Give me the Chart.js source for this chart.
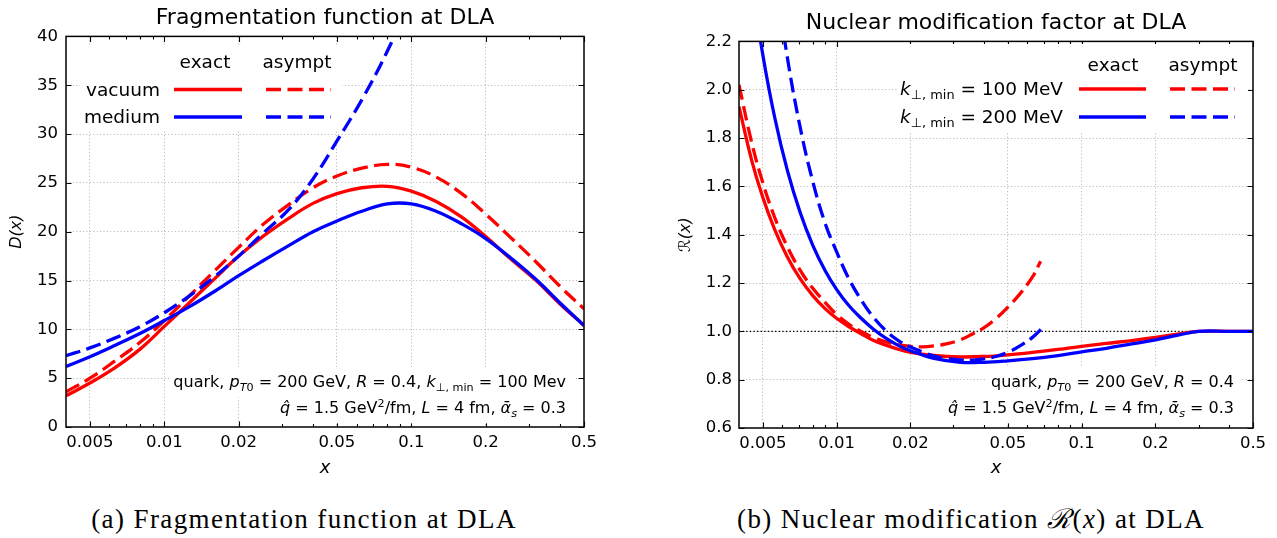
<!DOCTYPE html>
<html>
<head>
<meta charset="utf-8">
<script src="https://cdn.jsdelivr.net/npm/chart.js@4.4.1/dist/chart.umd.min.js"></script>
<style>
  html, body { margin: 0; padding: 0; background: #fff; }
  body { width: 1277px; height: 538px; position: relative; overflow: hidden; }
  canvas { position: absolute; top: 0; }
  #fragChart { left: 0; }
  #rmodChart { left: 640px; }
  .caption { position: absolute; top: 503px; font-family: 'Liberation Serif', serif; font-size: 27px;
             line-height: 32px; white-space: nowrap; transform: translateX(-50%); letter-spacing: 1.4px; }
</style>
</head>
<body>
<canvas id="fragChart" width="638" height="480"></canvas>
<canvas id="rmodChart" width="637" height="480"></canvas>
<div class="caption" style="left:304px">(a) Fragmentation function at DLA</div>
<div class="caption" style="left:971px">(b) Nuclear modification <i>ℛ</i>(<i>x</i>) at DLA</div>
<script>
'use strict';

// ---- axes ----
const xMajorTicks = [0.005, 0.01, 0.02, 0.05, 0.1, 0.2, 0.5];
const xTickLabels = ['0.005', '0.01', '0.02', '0.05', '0.1', '0.2', '0.5'];
const xMinorTicks = [0.006, 0.007, 0.008, 0.009, 0.03, 0.04, 0.06, 0.07, 0.08, 0.09, 0.3, 0.4];
const fragYTicks = [0, 5, 10, 15, 20, 25, 30, 35, 40];
const rmodYTicks = [0.6, 0.8, 1.0, 1.2, 1.4, 1.6, 1.8, 2.0, 2.2];

// ---- (a) fragmentation function D(x) ----
const fragX        = [0.004, 0.005, 0.0063, 0.008, 0.01, 0.0126, 0.016, 0.02, 0.025, 0.032, 0.04, 0.05, 0.063, 0.08, 0.1, 0.126, 0.16, 0.2, 0.25, 0.32, 0.4, 0.5];
const vacuumExact  = [3.2, 4.5, 6.05, 8.0, 10.3, 12.7, 15.2, 17.5, 19.5, 21.4, 22.9, 23.9, 24.5, 24.65, 24.15, 23.1, 21.5, 19.5, 17.3, 15.0, 12.6, 10.4];
const vacuumAsympt = [3.6, 5.0, 6.75, 8.7, 10.9, 13.4, 16.0, 18.4, 20.7, 22.8, 24.5, 25.7, 26.5, 26.9, 26.6, 25.6, 23.9, 21.8, 19.5, 16.9, 14.4, 12.1];
const mediumExact  = [6.2, 7.2, 8.35, 9.6, 10.9, 12.3, 13.9, 15.5, 17.0, 18.6, 20.0, 21.1, 22.1, 22.85, 22.85, 22.1, 20.8, 19.3, 17.4, 15.1, 12.7, 10.4];
const mediumAsymptX = [0.004, 0.005, 0.0063, 0.008, 0.01, 0.0126, 0.016, 0.02, 0.025, 0.032, 0.04, 0.05, 0.063, 0.08, 0.1];
const mediumAsympt  = [7.3, 8.1, 9.1, 10.3, 11.7, 13.4, 15.4, 17.5, 19.8, 22.3, 25.4, 29.3, 33.5, 38.5, 44.0];

// ---- (b) nuclear modification factor R(x) ----
const r100X     = [0.004, 0.0045, 0.005, 0.0056, 0.0063, 0.0071, 0.008, 0.009, 0.01, 0.0112, 0.0126, 0.0141, 0.016, 0.018, 0.02, 0.025, 0.032, 0.04, 0.05, 0.063, 0.08, 0.1, 0.126, 0.16, 0.2, 0.25, 0.3, 0.4, 0.5];
const r100Exact = [1.93, 1.71, 1.555, 1.42, 1.308, 1.218, 1.148, 1.093, 1.054, 1.02, 0.99, 0.963, 0.942, 0.925, 0.913, 0.9, 0.894, 0.896, 0.903, 0.913, 0.925, 0.938, 0.95, 0.962, 0.975, 0.99, 1.0, 1.0, 1.0];
const r200X     = [0.0045, 0.005, 0.0056, 0.0063, 0.0071, 0.008, 0.009, 0.01, 0.0112, 0.0126, 0.0141, 0.016, 0.018, 0.02, 0.025, 0.032, 0.04, 0.05, 0.063, 0.08, 0.1, 0.126, 0.16, 0.2, 0.25, 0.3, 0.4, 0.5];
const r200Exact = [2.45, 2.146, 1.883, 1.666, 1.493, 1.356, 1.25, 1.174, 1.108, 1.054, 1.01, 0.97, 0.94, 0.92, 0.888, 0.872, 0.872, 0.878, 0.887, 0.9, 0.915, 0.93, 0.948, 0.965, 0.985, 1.0, 1.0, 1.0];
const r100AsymX = [0.004, 0.0045, 0.005, 0.0056, 0.0063, 0.0071, 0.008, 0.009, 0.01, 0.0112, 0.0126, 0.0141, 0.016, 0.018, 0.02, 0.0224, 0.025, 0.028, 0.032, 0.036, 0.04, 0.045, 0.05, 0.056, 0.063, 0.068];
const r100Asym  = [2.02, 1.784, 1.616, 1.47, 1.35, 1.253, 1.178, 1.119, 1.07, 1.03, 1.0, 0.975, 0.956, 0.944, 0.938, 0.936, 0.94, 0.948, 0.965, 0.99, 1.015, 1.055, 1.10, 1.155, 1.225, 1.29];
const r200AsymX = [0.0056, 0.0063, 0.0071, 0.008, 0.009, 0.01, 0.0112, 0.0126, 0.0141, 0.016, 0.018, 0.02, 0.0224, 0.025, 0.028, 0.032, 0.036, 0.04, 0.045, 0.05, 0.056, 0.063, 0.07];
const r200Asym  = [2.49, 2.133, 1.846, 1.62, 1.445, 1.33, 1.22, 1.13, 1.06, 1.0, 0.96, 0.935, 0.915, 0.898, 0.888, 0.882, 0.881, 0.886, 0.897, 0.913, 0.94, 0.975, 1.02];
const refLineX  = [0.004, 0.5];
const refLineY  = [1, 1];

// ---- texts ----
const fragNotes = [
  [['quark, ', ''], ['p', 'i'], ['T', 'ib'], ['0', 'b'], [' = 200 GeV, ', ''], ['R', 'i'], [' = 0.4, ', ''], ['k', 'i'], ['\u22A5, min', 'b'], [' = 100 Mev', '']],
  [['q\u0302', 'i'], [' = 1.5 GeV', ''], ['2', 'p'], ['/fm, ', ''], ['L', 'i'], [' = 4 fm, ', ''], ['\u1FB1', 'i'], ['s', 'ib'], [' = 0.3', '']]
];
const rmodNotes = [
  [['quark, ', ''], ['p', 'i'], ['T', 'ib'], ['0', 'b'], [' = 200 GeV, ', ''], ['R', 'i'], [' = 0.4', '']],
  fragNotes[1]
];

const SANS = "'DejaVu Sans', sans-serif";
const RED = '#ff0000';
const BLUE = '#0000ff';
const GRID = '#bdbdbd';
const DASH = [15, 6.5];

Chart.defaults.font.family = SANS;

function toPts(xs, ys) {
  return xs.map((x, i) => ({ x: x, y: ys[i] }));
}

function runFont(st, size) {
  const s = (st.includes('b') || st.includes('p')) ? size * 0.7 : size;
  return (st.includes('i') ? 'italic ' : '') + s.toFixed(1) + 'px ' + SANS;
}
function runShift(st, size) {
  if (st.includes('b')) return size * 0.22;
  if (st.includes('p')) return -size * 0.4;
  return 0;
}
function richWidth(ctx, runs, size) {
  let w = 0;
  runs.forEach(r => { ctx.font = runFont(r[1], size); w += ctx.measureText(r[0]).width; });
  return w;
}
function drawRich(ctx, runs, x, y, size, align) {
  const w = richWidth(ctx, runs, size);
  let cx = align === 'right' ? x - w : (align === 'center' ? x - w / 2 : x);
  ctx.textAlign = 'left';
  ctx.textBaseline = 'alphabetic';
  runs.forEach(r => {
    ctx.font = runFont(r[1], size);
    ctx.fillText(r[0], cx, y + runShift(r[1], size));
    cx += ctx.measureText(r[0]).width;
  });
}

// frame, inward ticks, legend and notes
function decorPlugin(cfg) {
  return {
    id: 'decor',
    afterDatasetsDraw(chart) {
      const ctx = chart.ctx;
      const a = chart.chartArea;
      const xs = chart.scales.x, ys = chart.scales.y;
      ctx.save();
      ctx.strokeStyle = '#000';
      ctx.lineWidth = 1.1;
      ctx.beginPath();
      xMajorTicks.concat(xMinorTicks).forEach(v => {
        const len = xMajorTicks.includes(v) ? 5.5 : 3;
        const px = Math.round(xs.getPixelForValue(v)) + 0.5;
        ctx.moveTo(px, a.bottom); ctx.lineTo(px, a.bottom - len);
        ctx.moveTo(px, a.top); ctx.lineTo(px, a.top + len);
      });
      cfg.yTicks.forEach(v => {
        const py = Math.round(ys.getPixelForValue(v)) + 0.5;
        ctx.moveTo(a.left, py); ctx.lineTo(a.left + 5.5, py);
        ctx.moveTo(a.right, py); ctx.lineTo(a.right - 5.5, py);
      });
      ctx.stroke();
      ctx.lineWidth = 1.5;
      ctx.strokeRect(a.left, a.top, a.right - a.left, a.bottom - a.top);

      // legend
      const lg = cfg.legend;
      ctx.fillStyle = '#fff';
      ctx.fillRect(lg.box[0], lg.box[1], lg.box[2], lg.box[3]);
      ctx.fillStyle = '#000';
      ctx.font = lg.size + 'px ' + SANS;
      ctx.textAlign = 'center';
      ctx.textBaseline = 'alphabetic';
      ctx.fillText('exact', lg.exactX, lg.headY);
      ctx.fillText('asympt', lg.asymX, lg.headY);
      lg.rows.forEach(row => {
        ctx.fillStyle = '#000';
        drawRich(ctx, row.runs, lg.labelRight, row.y + 6, lg.size, 'right');
        ctx.strokeStyle = row.color;
        ctx.lineWidth = 3.3;
        ctx.setLineDash([]);
        ctx.beginPath(); ctx.moveTo(lg.solid[0], row.y); ctx.lineTo(lg.solid[1], row.y); ctx.stroke();
        ctx.setLineDash(DASH);
        ctx.beginPath(); ctx.moveTo(lg.dashed[0], row.y); ctx.lineTo(lg.dashed[1], row.y); ctx.stroke();
        ctx.setLineDash([]);
      });

      // parameter notes, each line on a white box
      const nt = cfg.notes;
      nt.lines.forEach((runs, i) => {
        const w = richWidth(ctx, runs, nt.size);
        const base = nt.baselines[i];
        ctx.fillStyle = '#fff';
        ctx.fillRect(nt.right - w - 4, base - nt.size * 1.25, w + 12, nt.size * 1.9);
      });
      ctx.fillStyle = '#000';
      nt.lines.forEach((runs, i) => drawRich(ctx, runs, nt.right, nt.baselines[i], nt.size, 'right'));
      ctx.restore();
    }
  };
}

function edgeGrid(edges) {
  return ctx => (ctx.tick && edges.includes(ctx.tick.value)) ? 'rgba(0,0,0,0)' : GRID;
}

function line(xs, ys, color, dashed) {
  return {
    data: toPts(xs, ys),
    borderColor: color,
    borderWidth: 3.3,
    borderDash: dashed ? DASH : [],
    pointRadius: 0,
    fill: false,
    tension: 0.4,
    clip: 0
  };
}

function makeChart(id, cfg) {
  return new Chart(document.getElementById(id), {
    type: 'line',
    data: { datasets: cfg.datasets },
    options: {
      responsive: false,
      animation: false,
      events: [],
      layout: { padding: { left: 0, right: cfg.padRight, top: 0, bottom: 0 } },
      plugins: {
        legend: { display: false },
        tooltip: { enabled: false },
        title: {
          display: true, fullSize: false, text: cfg.title, color: '#000',
          font: { family: SANS, size: 22, weight: 'normal', lineHeight: 1.2 },
          padding: cfg.titlePad
        }
      },
      scales: {
        x: {
          type: 'logarithmic', min: 0.004, max: 0.5,
          afterBuildTicks: s => { s.ticks = xMajorTicks.map(v => ({ value: v })); },
          afterFit: s => { s.height = cfg.xAxisHeight; },
          ticks: {
            autoSkip: false, maxRotation: 0, minRotation: 0, padding: 6, color: '#000',
            font: { family: SANS, size: 16.5 },
            callback: (v, i) => xTickLabels[i]
          },
          grid: { drawTicks: false, lineWidth: 1, color: edgeGrid([0.5]) },
          border: { display: false, dash: [1.2, 2.2] },
          title: {
            display: true, text: 'x', color: '#000',
            font: { family: SANS, size: 18, style: 'italic' },
            padding: { top: 0, bottom: 1 }
          }
        },
        y: {
          type: 'linear', min: cfg.yTicks[0], max: cfg.yTicks[cfg.yTicks.length - 1],
          afterBuildTicks: s => { s.ticks = cfg.yTicks.map(v => ({ value: v })); },
          afterFit: s => { s.width = cfg.yAxisWidth; },
          ticks: {
            padding: cfg.yTickPad, color: '#000',
            font: { family: SANS, size: 16.5 },
            callback: cfg.yFormat
          },
          grid: { drawTicks: false, lineWidth: 1, color: edgeGrid([cfg.yTicks[0], cfg.yTicks[cfg.yTicks.length - 1]]) },
          border: { display: false, dash: [1.2, 2.2] },
          title: {
            display: true, text: cfg.yTitle, color: '#000',
            font: { family: SANS, size: 16, style: 'italic' },
            padding: { top: cfg.yTitlePad, bottom: 0 }
          }
        }
      }
    },
    plugins: [decorPlugin(cfg)]
  });
}

makeChart('fragChart', {
  title: 'Fragmentation function at DLA',
  titlePad: { top: 5, bottom: 5 },
  padRight: 54,
  xAxisHeight: 53,
  yAxisWidth: 66,
  yTickPad: 8,
  yTicks: fragYTicks,
  yFormat: v => String(v),
  yTitle: 'D(x)',
  yTitlePad: 7,
  datasets: [
    line(mediumAsymptX, mediumAsympt, BLUE, true),
    line(fragX, mediumExact, BLUE, false),
    line(fragX, vacuumAsympt, RED, true),
    line(fragX, vacuumExact, RED, false)
  ],
  legend: {
    box: [80, 46, 262, 84], size: 18.5,
    exactX: 205, asymX: 297, headY: 68,
    labelRight: 160, solid: [174, 242], dashed: [266, 331],
    rows: [
      { runs: [['vacuum', '']], y: 89.5, color: RED },
      { runs: [['medium', '']], y: 117, color: BLUE }
    ]
  },
  notes: { lines: fragNotes, right: 566, baselines: [387, 413], size: 16 }
});

makeChart('rmodChart', {
  title: 'Nuclear modification factor at DLA',
  titlePad: { top: 10, bottom: 5 },
  padRight: 24,
  xAxisHeight: 52,
  yAxisWidth: 99,
  yTickPad: 7,
  yTicks: rmodYTicks,
  yFormat: v => v.toFixed(1),
  yTitle: '\u211B(x)',
  yTitlePad: 36,
  datasets: [
    line(r200AsymX, r200Asym, BLUE, true),
    line(r200X, r200Exact, BLUE, false),
    line(r100AsymX, r100Asym, RED, true),
    line(r100X, r100Exact, RED, false),
    {
      data: toPts(refLineX, refLineY), borderColor: '#000', borderWidth: 1.4,
      borderDash: [1.4, 2.2], pointRadius: 0, fill: false, clip: 0
    }
  ],
  legend: {
    box: [258, 44, 350, 88], size: 18.5,
    exactX: 473, asymX: 563, headY: 71,
    labelRight: 423, solid: [439, 506], dashed: [530, 595],
    rows: [
      { runs: [['k', 'i'], ['\u22A5, min', 'b'], [' = 100 MeV', '']], y: 89, color: RED },
      { runs: [['k', 'i'], ['\u22A5, min', 'b'], [' = 200 MeV', '']], y: 117, color: BLUE }
    ]
  },
  notes: { lines: rmodNotes, right: 594, baselines: [387, 413], size: 16 }
});
</script>
</body>
</html>
